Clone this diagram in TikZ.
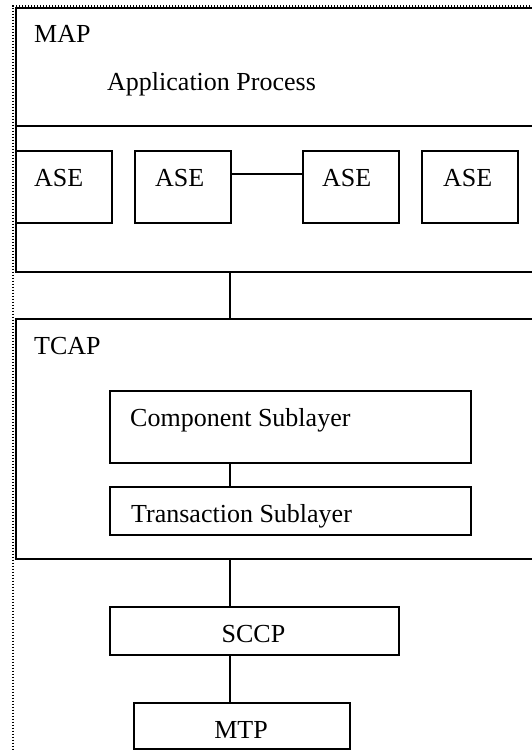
\documentclass[tikz,border=0pt]{standalone}
\usepackage{fontspec}
\setmainfont{Liberation Serif}
\begin{document}
\begin{tikzpicture}[x=1pt,y=-1pt,
  box/.style={draw, line width=2pt, rectangle, inner sep=0pt, anchor=north west},
  txt/.style={inner sep=0pt, font=\fontsize{26}{30}\selectfont},
  link/.style={line width=2pt},
  frame/.style={draw, line width=2pt, dash pattern=on 1.5pt off 1.5pt}]
\useasboundingbox (0,0) rectangle (532,750);
\clip (0,0) rectangle (532,750);
% dotted outer frame (partly outside the picture)
\node[frame, rectangle, inner sep=0pt, anchor=north west, minimum width=560pt, minimum height=780pt] (outer) at (12.2,4.5) {};
% MAP layer
\node[box, minimum width=540pt, minimum height=264pt] (map) at (14.6,6.6) {};
\coordinate (axis) at (230,0);
\coordinate (sepy) at (0,126);
\draw[link] (map.west |- sepy) -- (map.east |- sepy);
\node[txt, anchor=base west] (maplbl) at (34,42) {MAP};
\node[txt, anchor=base west] (app) at (107,90) {Application Process};
\node[box, minimum width=96pt, minimum height=72pt] (ase1) at (14.6,150) {};
\node[box, minimum width=96pt, minimum height=72pt] (ase2) at (134,150) {};
\node[box, minimum width=96pt, minimum height=72pt] (ase3) at (302,150) {};
\node[box, minimum width=96pt, minimum height=72pt] (ase4) at (421,150) {};
\node[txt, anchor=base west] (t1) at (34,186) {ASE};
\node[txt, anchor=base west] (t2) at (155,186) {ASE};
\node[txt, anchor=base west] (t3) at (322,186) {ASE};
\node[txt, anchor=base west] (t4) at (443,186) {ASE};
\draw[link] ([yshift=-24pt]ase2.north east) -- ([yshift=-24pt]ase3.north west);
% TCAP layer
\node[box, minimum width=540pt, minimum height=240pt] (tcap) at (14.6,318) {};
\node[txt, anchor=base west] (tcaplbl) at (34,354) {TCAP};
\node[box, minimum width=361pt, minimum height=72pt] (comp) at (109,390) {};
\node[txt, anchor=base west] (complbl) at (130,426) {Component Sublayer};
\node[box, minimum width=361pt, minimum height=48pt] (trans) at (109,486) {};
\node[txt, anchor=base west] (translbl) at (131,522) {Transaction Sublayer};
% SCCP and MTP
\node[box, minimum width=289pt, minimum height=48pt] (sccp) at (109,606) {};
\node[txt, anchor=base] (sccplbl) at (253.5,642) {SCCP};
\node[box, minimum width=216pt, minimum height=46pt] (mtp) at (133,702) {};
\node[txt, anchor=base] (mtplbl) at (241,738) {MTP};
% connectors
\draw[link] (axis |- map.south) -- (axis |- tcap.north);
\draw[link] (axis |- comp.south) -- (axis |- trans.north);
\draw[link] (axis |- tcap.south) -- (axis |- sccp.north);
\draw[link] (axis |- sccp.south) -- (axis |- mtp.north);
\end{tikzpicture}
\end{document}
